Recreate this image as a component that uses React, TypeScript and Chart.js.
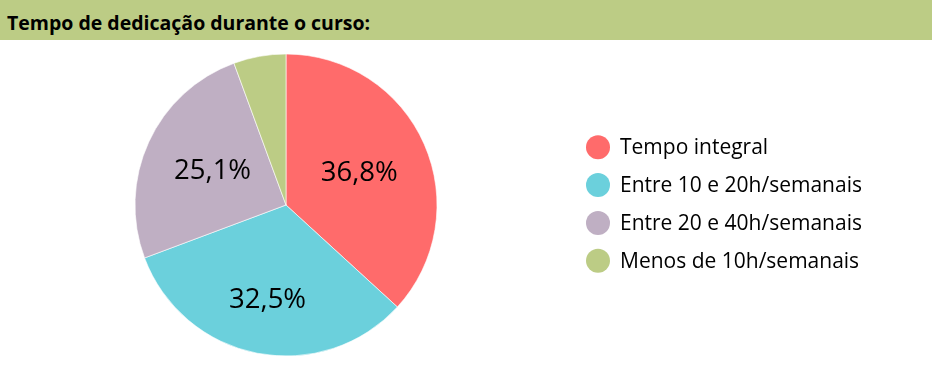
import React, { useEffect, useRef } from "react";
import { Chart, registerables } from "chart.js";

Chart.register(...registerables);

const categories = [
  "Tempo integral",
  "Entre 10 e 20h/semanais",
  "Entre 20 e 40h/semanais",
  "Menos de 10h/semanais",
];
const values = [36.8, 32.5, 25.1, 5.6];
const valueLabels = ["36,8%", "32,5%", "25,1%", ""];
const colors = ["#FF6B6B", "#6BD0DC", "#BFAFC3", "#BCCC85"];
const title = "Tempo de dedicação durante o curso:";

const labelRadius = [0.53, 0.64, 0.535, 0.6];

const labelsPlugin = {
  id: "sliceLabels",
  afterDatasetsDraw(chart: any) {
    const ctx = chart.ctx;
    const meta = chart.getDatasetMeta(0);
    ctx.save();
    ctx.font = "27.5px 'Open Sans'";
    ctx.fillStyle = "#000";
    ctx.textAlign = "center";
    ctx.textBaseline = "middle";
    meta.data.forEach((arc: any, i: number) => {
      const t = valueLabels[i];
      if (!t) return;
      const { x, y, startAngle, endAngle, outerRadius } = arc.getProps(
        ["x", "y", "startAngle", "endAngle", "outerRadius"],
        true
      );
      const mid = (startAngle + endAngle) / 2;
      const r = outerRadius * labelRadius[i];
      ctx.fillText(t, x + Math.cos(mid) * r, y + Math.sin(mid) * r);
    });
    ctx.restore();
  },
};

const legendPlugin = {
  id: "sideLegend",
  afterDraw(chart: any) {
    const ctx = chart.ctx;
    ctx.save();
    ctx.font = "21px 'Open Sans'";
    ctx.textAlign = "left";
    ctx.textBaseline = "middle";
    categories.forEach((c, i) => {
      const cy = 107.3 + 37.8 * i;
      ctx.beginPath();
      ctx.arc(598, cy, 12, 0, Math.PI * 2);
      ctx.fillStyle = colors[i];
      ctx.fill();
      ctx.fillStyle = "#000";
      ctx.fillText(c, 620, cy + 1);
    });
    ctx.restore();
  },
};

export default function App() {
  const ref = useRef<HTMLCanvasElement>(null);
  useEffect(() => {
    if (!ref.current) return;
    const chart = new Chart(ref.current, {
      type: "pie",
      data: {
        labels: categories,
        datasets: [
          {
            data: values,
            backgroundColor: colors,
            borderColor: "rgba(255,255,255,0.6)",
            borderWidth: 1,
          },
        ],
      },
      options: {
        animation: false,
        responsive: false,
        maintainAspectRatio: false,
        layout: { padding: { left: 134.5, right: 494.5, top: 13.5, bottom: 10.5 } },
        plugins: {
          legend: { display: false },
          tooltip: { enabled: false },
          title: { display: false },
        },
      },
      plugins: [labelsPlugin, legendPlugin],
    });
    return () => chart.destroy();
  }, []);
  return (
    <div
      style={{
        position: "absolute",
        left: 0,
        top: 0,
        width: 932,
        height: 367,
        background: "#fff",
        overflow: "hidden",
      }}
    >
      <div
        style={{
          position: "absolute",
          left: 0,
          top: 0,
          width: 932,
          height: 40,
          background: "#BCCC85",
          fontFamily: "'Open Sans'",
          fontWeight: 700,
          fontSize: 19.5,
          lineHeight: "34px",
          paddingTop: 5.5,
          paddingLeft: 7,
          boxSizing: "border-box",
          color: "#000",
          whiteSpace: "nowrap",
          overflow: "hidden",
        }}
      >
        {title}
      </div>
      <canvas
        ref={ref}
        width={932}
        height={327}
        style={{ position: "absolute", left: 0, top: 40, width: 932, height: 327 }}
      />
    </div>
  );
}
